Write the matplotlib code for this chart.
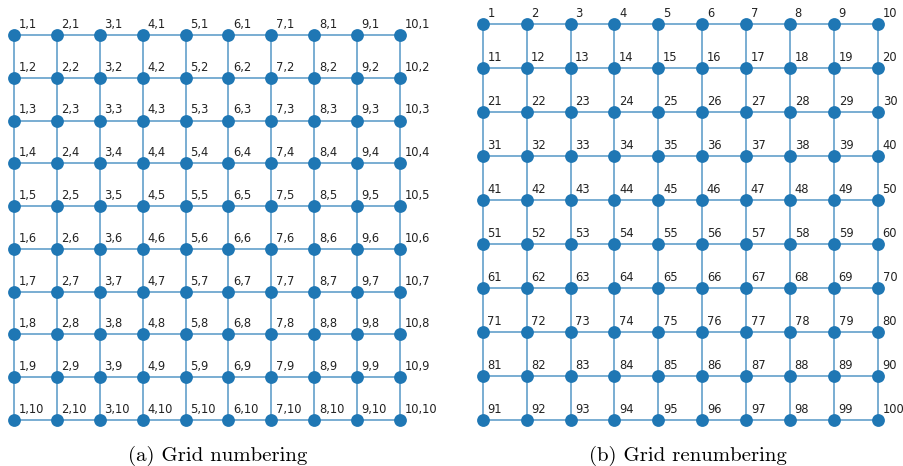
import matplotlib
matplotlib.use("Agg")
import matplotlib.pyplot as plt

# ---- data ----
col_ids = [1, 2, 3, 4, 5, 6, 7, 8, 9, 10]
row_ids = [1, 2, 3, 4, 5, 6, 7, 8, 9, 10]
labels_a = [[f"{c},{r}" for c in col_ids] for r in row_ids]
labels_b = [[str((r - 1) * len(col_ids) + c) for c in col_ids] for r in row_ids]
captions = ["(a) Grid numbering", "(b) Grid renumbering"]

W, H = 904, 466
fig = plt.figure(figsize=(W / 100, H / 100), dpi=100)

node_color = "#1f77b4"
edge_color = "#1f77b4"


def make_axes(x0, x9, y0, y9):
    ux = (x9 - x0) / 9
    uy = (y9 - y0) / 9
    m = 0.3
    left = x0 - m * ux
    width = (9 + 2 * m) * ux
    top = y0 - m * uy
    height = (9 + 2 * m) * uy
    ax = fig.add_axes([left / W, (H - top - height) / H, width / W, height / H])
    ax.set_xlim(-m, 9 + m)
    ax.set_ylim(9 + m, -m)
    ax.axis("off")
    return ax


def draw_grid(ax, labels):
    nr, nc = len(row_ids), len(col_ids)
    for r in range(nr):
        ax.plot([0, nc - 1], [r, r], color=edge_color, alpha=0.6, lw=1.4,
                zorder=1, solid_capstyle="butt")
    for c in range(nc):
        ax.plot([c, c], [0, nr - 1], color=edge_color, alpha=0.6, lw=1.4,
                zorder=1, solid_capstyle="butt")
    xs = [c for r in range(nr) for c in range(nc)]
    ys = [r for r in range(nr) for c in range(nc)]
    ax.scatter(xs, ys, s=85, color=node_color, zorder=2, linewidths=0)
    for r in range(nr):
        for c in range(nc):
            ax.annotate(labels[r][c], (c, r), xytext=(3.3, 3), textcoords="offset points",
                        fontsize=8.3, color="#222222", ha="left", va="bottom",
                        annotation_clip=False, zorder=3)


ax1 = make_axes(14, 400, 35, 420)
draw_grid(ax1, labels_a)
ax2 = make_axes(482.7, 878, 24.3, 420)
draw_grid(ax2, labels_b)

fig.text(218 / W, 1 - 461 / H, captions[0], ha="center", va="baseline",
         fontsize=15, family="cmr10")
fig.text(688 / W, 1 - 461 / H, captions[1], ha="center", va="baseline",
         fontsize=15, family="cmr10")

fig.savefig("out.png", dpi=100)
